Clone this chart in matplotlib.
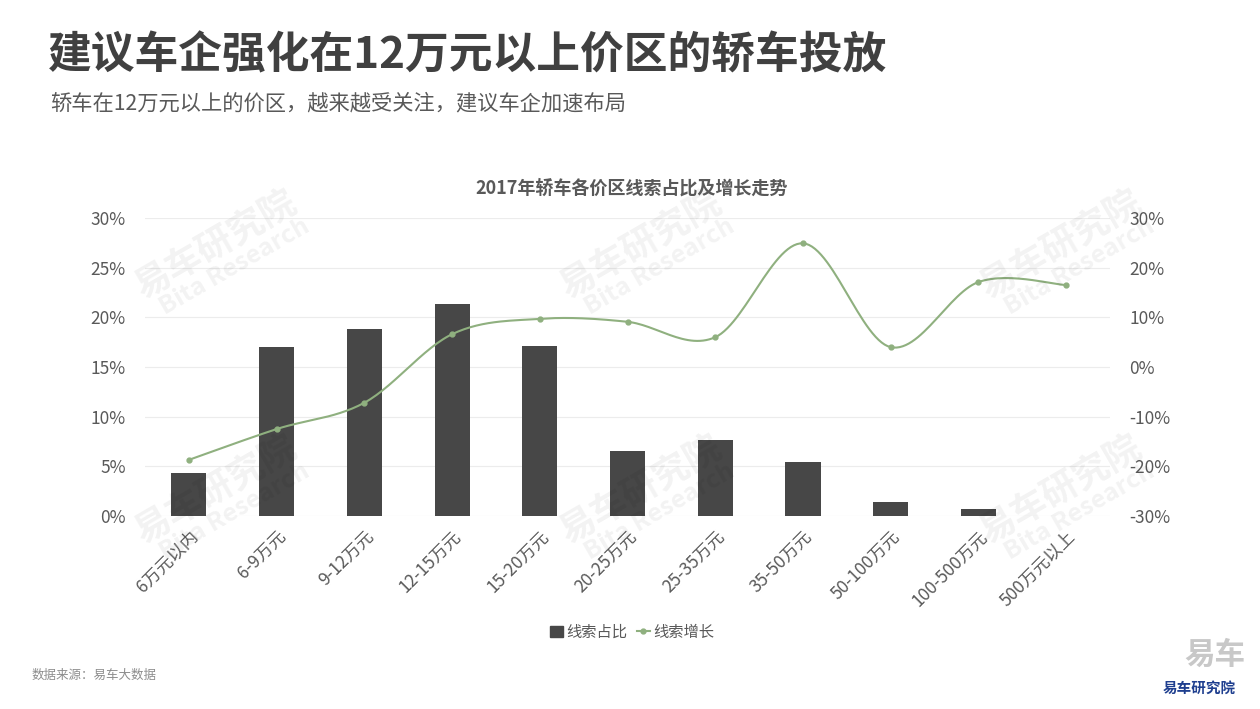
import numpy as np
import matplotlib
matplotlib.use('Agg')
import matplotlib.pyplot as plt
from matplotlib.ticker import FuncFormatter
from matplotlib.lines import Line2D
from matplotlib.patches import Patch

plt.rcParams['font.family'] = ['Noto Sans CJK SC', 'DejaVu Sans']

categories = ['6万元以内', '6-9万元', '9-12万元', '12-15万元', '15-20万元', '20-25万元',
              '25-35万元', '35-50万元', '50-100万元', '100-500万元', '500万元以上']
share = [4.3, 17.0, 18.8, 21.3, 17.1, 6.5, 7.7, 5.4, 1.4, 0.7, 0.05]      # 线索占比 %
growth = [-18.7, -12.5, -7.2, 6.6, 9.7, 9.1, 6.0, 24.9, 4.0, 17.1, 16.5]  # 线索增长 %

bar_color = '#474747'
line_color = '#8fb07f'
text_color = '#595959'

fig = plt.figure(figsize=(12.6, 7.09), dpi=100)
ax = fig.add_axes([145 / 1260, 1 - 516 / 709, 965 / 1260, 298 / 709])
ax2 = ax.twinx()

x = np.arange(len(categories))
ax.bar(x, share, width=0.4, color=bar_color, zorder=2)
ax.set_xlim(-0.5, len(categories) - 0.5)
ax.set_ylim(0, 30)
ax.set_yticks(range(0, 31, 5))
ax.yaxis.set_major_formatter(FuncFormatter(lambda v, p: f'{v:.0f}%'))
ax.grid(axis='y', color='#ececec', linewidth=0.8, zorder=0)
ax.set_axisbelow(True)

ax2.set_ylim(-30, 30)
ax2.set_yticks(range(-30, 31, 10))
ax2.yaxis.set_major_formatter(FuncFormatter(lambda v, p: f'{v:.0f}%'))

for a in (ax, ax2):
    for s in a.spines.values():
        s.set_visible(False)
    a.tick_params(length=0, labelsize=12.5, labelcolor=text_color, pad=14)

ax.set_xticks(x)
ax.set_xticklabels(categories, rotation=45, ha='right', va='top', rotation_mode='anchor')
ax.tick_params(axis='x', pad=8)

# smooth line like office charts (bezier through points, computed in pixel space)
fig.canvas.draw()
pts = ax2.transData.transform(np.column_stack([x, growth]))
n = len(pts)
curve = []
for i in range(n - 1):
    p0 = pts[max(i - 1, 0)]
    p1 = pts[i]
    p2 = pts[i + 1]
    p3 = pts[min(i + 2, n - 1)]
    c1 = p1 + (p2 - p0) / 6
    c2 = p2 - (p3 - p1) / 6
    t = np.linspace(0, 1, 30)[:, None]
    seg = ((1 - t) ** 3) * p1 + 3 * ((1 - t) ** 2) * t * c1 + 3 * (1 - t) * t ** 2 * c2 + t ** 3 * p2
    curve.append(seg if i == 0 else seg[1:])
curve = ax2.transData.inverted().transform(np.vstack(curve))
ax2.plot(curve[:, 0], curve[:, 1], color=line_color, linewidth=1.5, zorder=3)
ax2.plot(x, growth, 'o', color=line_color, markersize=3.5, zorder=4)

# watermarks
for wx, wy in [(215, 245), (640, 245), (1060, 245), (215, 490), (640, 490), (1060, 490)]:
    fig.text(wx / 1260, 1 - wy / 709, '易车研究院', fontsize=26, color='#000000', alpha=0.05,
             rotation=30, ha='center', va='center', fontweight='bold')
    fig.text((wx + 20) / 1260, 1 - (wy + 22) / 709, 'Bita Research', fontsize=18, color='#000000',
             alpha=0.05, rotation=30, ha='center', va='center', fontweight='bold')

fig.text(48 / 1260, 1 - 55 / 709, '建议车企强化在12万元以上价区的轿车投放', fontsize=31.5,
         fontweight='bold', color='#404040', va='center', ha='left')
fig.text(50 / 1260, 1 - 103 / 709, '轿车在12万元以上的价区，越来越受关注，建议车企加速布局', fontsize=15.3,
         color=text_color, va='center', ha='left')
fig.text(632 / 1260, 1 - 188 / 709, '2017年轿车各价区线索占比及增长走势', fontsize=13,
         fontweight='bold', color=text_color, va='center', ha='center')

handles = [Patch(color=bar_color, label='线索占比'),
           Line2D([], [], color=line_color, marker='o', markersize=3.5, linewidth=1.5, label='线索增长')]
fig.legend(handles=handles, loc='center', bbox_to_anchor=(632 / 1260, 1 - 632 / 709), ncol=2,
           frameon=False, fontsize=11, handlelength=0.9, handletextpad=0.2, columnspacing=0.6,
           labelcolor=text_color)

fig.text(32 / 1260, 1 - 675 / 709, '数据来源：易车大数据', fontsize=9, color='#8c8c8c', va='center')
fig.text(1245 / 1260, 1 - 655 / 709, '易车', fontsize=22, color='#c8c8c8', fontweight='bold',
         ha='right', va='center')
fig.text(1236 / 1260, 1 - 688 / 709, '易车研究院', fontsize=10.5, color='#1f3f8f', fontweight='bold',
         ha='right', va='center')

fig.savefig('out.png', dpi=100, facecolor='white')
